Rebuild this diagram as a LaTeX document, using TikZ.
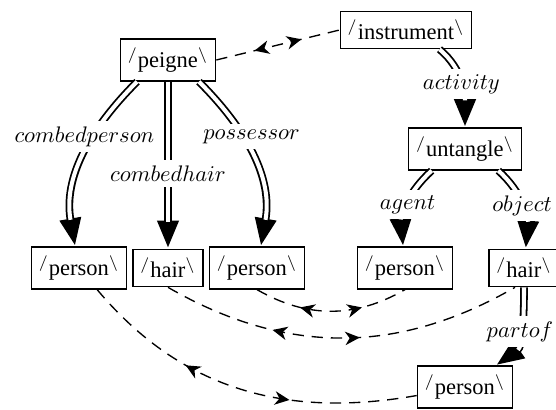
\documentclass[tikz,border=0pt]{standalone}
\usepackage{fontspec}
\setmainfont{Liberation Serif}
\usetikzlibrary{arrows.meta}
\usetikzlibrary{decorations.markings}

\newcommand{\lex}[1]{$^{/}$#1$^{\backslash}$}

\begin{document}
\begin{tikzpicture}[x=0.4444pt,y=0.4444pt]
			\tikzstyle{sem}=[draw, line width=0.6pt, inner xsep=3.3pt, inner ysep=3.8pt]
			\tikzstyle{feat}=[fill=white, inner sep=2.5pt]
			\tikzstyle{attr}=[line width=3.4pt, -{Triangle[length=12.5pt 0 0,width=8.8pt 0 0]},
				postaction={draw=white, line width=1.8pt, shorten >=12pt, -}]
			\tikzset{coref/.style 2 args={dash pattern=on 5pt off 3.5pt, line width=0.6pt, postaction={decorate},
				decoration={markings,
					mark=at position #1 with {\arrowreversed{Stealth[length=6.5pt 0 0,width=6pt 0 0,inset=2pt]}},
					mark=at position #2 with {\arrow{Stealth[length=6.5pt 0 0,width=6pt 0 0,inset=2pt]}}}}}
			
			\useasboundingbox (0,0) rectangle (556,-410);
			
			\node[sem] (peigne) at (168,-60) {\lex{peigne}};
			\node[sem] (instrument) at (406,-30) {\lex{instrument}};
			\node[sem] (untangle) at (465,-149) {\lex{untangle}};
			\node[sem] (pers1) at (79,-268) {\lex{person}};
			\node[sem] (hair1) at (168,-268) {\lex{hair}};
			\node[sem] (pers2) at (257,-268) {\lex{person}};
			\node[sem] (pers3) at (405,-268) {\lex{person}};
			\node[sem] (hair2) at (524,-268) {\lex{hair}};
			\node[sem] (pers4) at (465,-387) {\lex{person}};
			
			\draw[attr] (peigne.-145) to[out=225,in=100] node[feat,pos=0.37,xshift=-4pt] {$combedperson$} (pers1);
			\draw[attr] (peigne) -- node[feat,pos=0.55] {$combedhair$} (hair1);
			\draw[attr] (peigne.-35) to[out=-45,in=80] node[feat,pos=0.37,xshift=4pt] {$possessor$} (pers2);
			\draw[attr] (instrument.-30) to[out=-40,in=90] node[feat] {$activity$} (untangle);
			\draw[attr] (untangle.-147) to[out=-138,in=95] node[feat] {$agent$} (pers3);
			\draw[attr] (untangle.-33) to[out=-42,in=85] node[feat] {$object$} (hair2);
			\draw[attr] (hair2.south) to[out=-90,in=35] node[feat] {$partof$} (pers4);
			
			\draw[coref={0.31}{0.69}] (peigne.east) -- (instrument.west);
			\draw[coref={0.3}{0.7}] (pers2.south) to[out=-30,in=-150] (pers3.south);
			\draw[coref={0.31}{0.55}] (hair1.south) to[out=-30,in=-150] ([xshift=-4pt]hair2.south);
			\draw[coref={0.33}{0.64}] (pers1.-50) to[out=-50,in=190] (pers4.190);
\end{tikzpicture}
\end{document}
